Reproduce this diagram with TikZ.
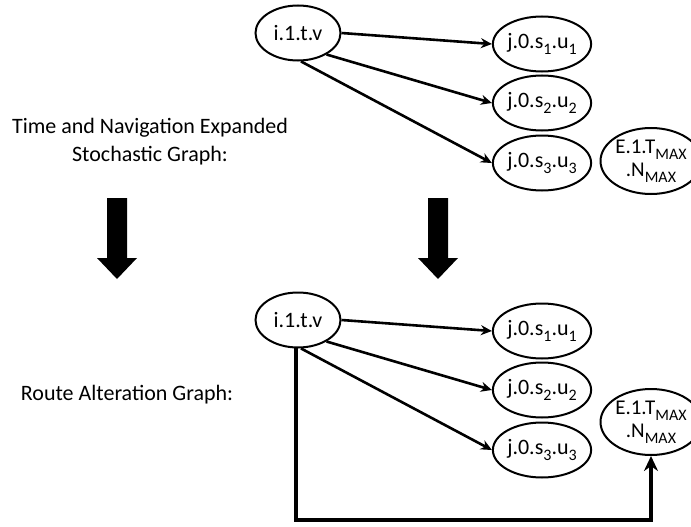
\documentclass[tikz,border=0pt]{standalone}
\usepackage{fontspec}
\setmainfont{Carlito}
\usetikzlibrary{shapes.geometric,arrows.meta}
% lowered subscript set in the text font
\newcommand\lowsub[1]{\raisebox{-0.28em}{\fontsize{16}{16}\selectfont #1}}
\begin{document}
\begin{tikzpicture}[x=1pt,y=-1pt,
  state/.style={draw,ellipse,line width=2pt,inner sep=0pt,
    minimum width=85pt,minimum height=55pt,font=\fontsize{22}{24}\selectfont},
  sink/.style={draw,ellipse,line width=2pt,inner sep=0pt,align=center,
    minimum width=78pt,minimum height=66pt,font=\fontsize{21}{23}\selectfont},
  edge/.style={line width=2.6pt,-{Stealth[length=11pt,width=10pt]}},
  detour/.style={line width=4pt,-{Stealth[length=15pt,width=14pt]}},
  caption/.style={font=\fontsize{22}{28}\selectfont,align=center},
  bigarrow/.style={fill=black}]
\useasboundingbox (0,0) rectangle (691,527);

% labels
\node[caption] (lab1) at (150,142) {Time and Navigation Expanded\\Stochastic Graph:};
\node[caption] (lab2) at (127,395) {Route Alteration Graph:};

% stochastic graph
\node[state] (i1) at (298,33) {i.1.t.v};
\node[state] (a1) at (542,44) {j.0.s\lowsub{1}.u\lowsub{1}};
\node[state] (a2) at (542,103) {j.0.s\lowsub{2}.u\lowsub{2}};
\node[state] (a3) at (542,163) {j.0.s\lowsub{3}.u\lowsub{3}};
\node[sink] (e1) at (651,161) {E.1.T\lowsub{MAX}\\.N\lowsub{MAX}};
\draw[edge] (i1.east) -- (a1.west);
\draw[edge] (i1.-37) -- (a2.west);
\draw[edge] (i1.-84) -- (a3.west);

% transition arrows
\fill[bigarrow] (107,198) -- (127,198) -- (127,258) -- (137,258) -- (117,279)
  -- (97,258) -- (107,258) -- cycle;
\fill[bigarrow] (428,198) -- (448,198) -- (448,258) -- (458,258) -- (438,279)
  -- (418,258) -- (428,258) -- cycle;

% route alteration graph
\node[state] (i2) at (298,320) {i.1.t.v};
\node[state] (b1) at (542,331) {j.0.s\lowsub{1}.u\lowsub{1}};
\node[state] (b2) at (542,390) {j.0.s\lowsub{2}.u\lowsub{2}};
\node[state] (b3) at (542,450) {j.0.s\lowsub{3}.u\lowsub{3}};
\node[sink] (e2) at (651,422) {E.1.T\lowsub{MAX}\\.N\lowsub{MAX}};
\draw[edge] (i2.east) -- (b1.west);
\draw[edge] (i2.-37) -- (b2.west);
\draw[edge] (i2.-84) -- (b3.west);
\coordinate (c1) at (i2.-95 |- 0,520);
\draw[detour] (i2.-95) -- (c1) -| (e2.south);
\end{tikzpicture}
\end{document}
